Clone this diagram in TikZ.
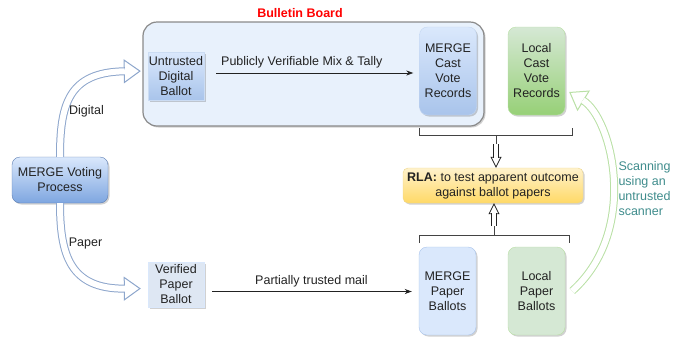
\documentclass[tikz,border=0pt]{standalone}
\usepackage{fontspec}
\setmainfont{Liberation Sans}
\usepackage{tikz}
\usetikzlibrary{arrows.meta,shadows}
\definecolor{ink}{HTML}{222222}
\definecolor{boardfill}{HTML}{E8F1FC}
\definecolor{boardline}{HTML}{8A8A8A}
\definecolor{blueA}{HTML}{DAE8FC}
\definecolor{blueB}{HTML}{A9C4EB}
\definecolor{blueC}{HTML}{7EA6E0}
\definecolor{blueline}{HTML}{5E7FB3}
\definecolor{greenA}{HTML}{D5E8D4}
\definecolor{greenB}{HTML}{97D077}
\definecolor{greenline}{HTML}{B9E0A5}
\definecolor{yellowA}{HTML}{FFF2CC}
\definecolor{yellowB}{HTML}{FFD966}
\definecolor{yellowline}{HTML}{EED68A}
\definecolor{paperfill}{HTML}{DEE7F3}
\definecolor{flowblue}{HTML}{8DA6CC}
\definecolor{scanteal}{HTML}{3F8C8C}
\tikzset{
  lab/.style={text=ink, font=\fontsize{12.5}{15}\selectfont},
  soft/.style={drop shadow={shadow xshift=1.5pt, shadow yshift=-1.5pt, opacity=0.18, fill=black}},
  box/.style={lab, align=center, inner sep=0pt, soft},
  tall/.style={box, minimum width=57pt, minimum height=88pt, rounded corners=8pt},
  flow/.style={draw=ink, line width=0.8pt, -{Stealth[length=7pt, width=5pt]}},
  bracket/.style={draw=ink!85, line width=0.8pt},
  wide/.style n args={3}{draw=white, line width=0.6pt, shorten >=#2,
    -{Triangle[open, color=#1, fill=white, length=17pt, width=24pt, line width=1pt]},
    postaction={draw=#1, line width=1pt, double=white, double distance=6pt, shorten >=#3, -}},
  hollow/.style={draw=white, line width=0.5pt,
    -{Triangle[open, color=ink, fill=white, length=11pt, width=11pt, line width=0.8pt]},
    postaction={draw=ink, line width=0.8pt, double=white, double distance=3.5pt, shorten >=10pt, -}},
}

\begin{document}
\begin{tikzpicture}[x=1pt, y=-1pt]
  \useasboundingbox (0,0) rectangle (681,341);
  % bulletin board
  \draw[boardline, fill=boardfill, line width=1.2pt, rounded corners=14pt, soft] (143,22) rectangle (484,126);
  \node[lab, text=red, font=\fontsize{12.5}{15}\selectfont\bfseries] (title) at (300,13) {Bulletin Board};
  % boxes
  \node[box, minimum width=56pt, minimum height=48pt, top color=blueA, bottom color=blueB, draw=blueB!60] (udb) at (176,76) {Untrusted\\Digital\\Ballot};
  \node[tall, top color=blueA, bottom color=blueB, draw=blueB!70] (mcvr) at (448,71) {MERGE\\Cast\\Vote\\Records};
  \node[tall, top color=greenA, bottom color=greenB, draw=greenline] (lcvr) at (536.5,71) {Local\\Cast\\Vote\\Records};
  \node[box, minimum width=180pt, minimum height=35pt, rounded corners=5pt, top color=yellowA, bottom color=yellowB, draw=yellowline] (rla) at (493,185.5) {\textbf{RLA:} to test apparent outcome\\against ballot papers};
  \node[tall, fill=blueA, draw=blueB] (mpb) at (447.5,291) {MERGE\\Paper\\Ballots};
  \node[tall, fill=greenA, draw=greenline] (lpb) at (536.5,291) {Local\\Paper\\Ballots};
  \node[box, minimum width=56pt, minimum height=45pt, fill=paperfill, draw=blueA] (vpb) at (176,284.5) {Verified\\Paper\\Ballot};
  \node[box, minimum width=96pt, minimum height=46pt, rounded corners=8pt, top color=blueA, bottom color=blueC, draw=blueline] (mvp) at (60,180) {MERGE Voting\\Process};
  % flows
  \draw[flow, shorten <=12pt, shorten >=6pt] ([yshift=3pt]udb.east) -- ([yshift=3pt]udb.east -| mcvr.west)
    node[lab, midway, above=1pt, xshift=-10pt] {Publicly Verifiable Mix \& Tally};
  \draw[flow, shorten <=8pt, shorten >=7pt] ([yshift=-7pt]vpb.east) -- ([yshift=-7pt]vpb.east -| mpb.west)
    node[lab, midway, above=1pt] {Partially trusted mail};
  \draw[wide={flowblue}{7pt}{23pt}] (mvp.north) .. controls (60,105) and (68,72) .. ([yshift=5pt]udb.west);
  \draw[wide={flowblue}{7pt}{23pt}] (mvp.south) .. controls (60,255) and (70,289) .. ([yshift=-4pt]vpb.west);
  \node[lab] (dlab) at (86.5,111) {Digital};
  \node[lab] (plab) at (85.5,243) {Paper};
  % scanning
  \draw[wide={greenline}{0pt}{16pt}] ([xshift=7pt]lpb.east) .. controls (640,230) and (612,118) .. ([xshift=4pt, yshift=-21pt]lcvr.east);
  \node[lab, text=scanteal, align=left, anchor=north west] (scan) at (615,158) {Scanning\\using an\\untrusted\\scanner};
  % brackets to the audit
  \draw[bracket] (419,128) -- (419,135) -- (572,135) -- (572,128);
  \coordinate (topjoin) at (496,135);
  \draw[bracket] (topjoin) -- ++(0,9) coordinate (topstem);
  \draw[hollow] (topstem) -- (topstem |- rla.north);
  \draw[bracket] (419,243) -- (419,235) -- (569,235) -- (569,243);
  \coordinate (botjoin) at (494,235);
  \draw[bracket] (botjoin) -- ++(0,-9) coordinate (botstem);
  \draw[hollow] (botstem) -- (botstem |- rla.south);
\end{tikzpicture}
\end{document}
